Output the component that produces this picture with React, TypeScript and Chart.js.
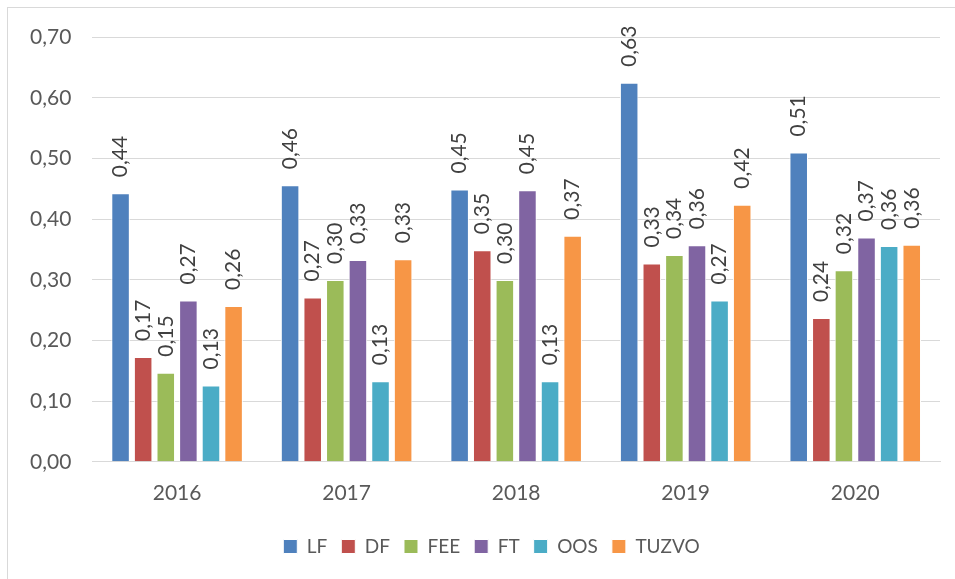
import React, { useEffect, useRef } from "react";
import { Chart, registerables } from "chart.js";

Chart.register(...registerables);

const categories = ["2016", "2017", "2018", "2019", "2020"];
const seriesNames = ["LF", "DF", "FEE", "FT", "OOS", "TUZVO"];
const seriesColors = ["#4f81bd", "#c0504d", "#9bbb59", "#8064a2", "#4bacc6", "#f79646"];
const lfValues = [0.443, 0.456, 0.449, 0.625, 0.51];
const dfValues = [0.173, 0.271, 0.349, 0.327, 0.237];
const feeValues = [0.147, 0.3, 0.3, 0.341, 0.316];
const ftValues = [0.266, 0.333, 0.448, 0.357, 0.37];
const oosValues = [0.126, 0.133, 0.133, 0.266, 0.356];
const tuzvoValues = [0.257, 0.334, 0.373, 0.424, 0.358];
const yTicks = [0, 0.1, 0.2, 0.3, 0.4, 0.5, 0.6, 0.7];

const allValues = [lfValues, dfValues, feeValues, ftValues, oosValues, tuzvoValues];
const FONT = "Lato, 'Open Sans', sans-serif";
const FS = 21;
const fmt = (v: number) => v.toFixed(2).replace(".", ",");

const labelPlugin = {
  id: "barLabels",
  afterLayout(chart: any) {
    const lg = chart.legend;
    if (lg) {
      lg.left += 17;
      lg.right += 17;
    }
  },
  afterDatasetsDraw(chart: any) {
    const ctx = chart.ctx;
    ctx.save();
    ctx.font = `${FS}px ${FONT}`;
    ctx.fillStyle = "#404040";
    ctx.textAlign = "left";
    ctx.textBaseline = "middle";
    chart.data.datasets.forEach((ds: any, i: number) => {
      const meta = chart.getDatasetMeta(i);
      meta.data.forEach((el: any, j: number) => {
        const v = ds.data[j];
        ctx.save();
        ctx.translate(el.x, el.y - 16);
        ctx.rotate(-Math.PI / 2);
        ctx.fillText(fmt(v), 0, 0);
        ctx.restore();
      });
    });
    ctx.restore();
  },
};

export default function App() {
  const ref = useRef<HTMLCanvasElement>(null);
  useEffect(() => {
    if (!ref.current) return;
    const chart = new Chart(ref.current, {
      type: "bar",
      data: {
        labels: categories,
        datasets: seriesNames.map((name, i) => ({
          label: name,
          data: allValues[i],
          backgroundColor: seriesColors[i],
          borderColor: "#ffffff",
          borderWidth: 1,
          categoryPercentage: 0.8,
          barPercentage: 0.82,
        })),
      },
      options: {
        animation: false,
        responsive: true,
        maintainAspectRatio: false,
        layout: { padding: { top: 14, right: 45, left: 0, bottom: 13 } },
        plugins: {
          legend: {
            position: "bottom",
            labels: {
              boxWidth: 14,
              boxHeight: 14,
              color: "#595959",
              font: { size: 19, family: FONT },
              padding: 14,
            },
          },
          tooltip: { enabled: false },
        },
        scales: {
          x: {
            grid: { display: false },
            border: { display: true, color: "#d9d9d9" },
            ticks: { color: "#595959", font: { size: FS, family: FONT }, padding: 11 },
            afterFit: (axis: any) => {
              axis.height += 6;
            },
          },
          y: {
            min: 0,
            max: 0.7,
            afterBuildTicks: (axis: any) => {
              axis.ticks = yTicks.map((v) => ({ value: v }));
            },
            grid: { color: "#d9d9d9", lineWidth: 1, drawTicks: false },
            border: { display: false },
            ticks: {
              color: "#595959",
              font: { size: FS, family: FONT, lineHeight: 0.7 },
              padding: 21,
              callback: (v: any) => fmt(Number(v)),
            },
          },
        },
      },
      plugins: [labelPlugin],
    });
    return () => chart.destroy();
  }, []);

  return (
    <div style={{ position: "fixed", left: 0, top: 0, width: 955, height: 579, background: "#fff", overflow: "hidden" }}>
      <div style={{ position: "absolute", left: 7, top: 7, width: 1000, height: 700, border: "1.5px solid #d9d9d9", boxSizing: "border-box" }} />
      <div style={{ position: "absolute", left: 9, top: 9, width: 976, height: 570 }}>
        <canvas ref={ref} />
      </div>
    </div>
  );
}
